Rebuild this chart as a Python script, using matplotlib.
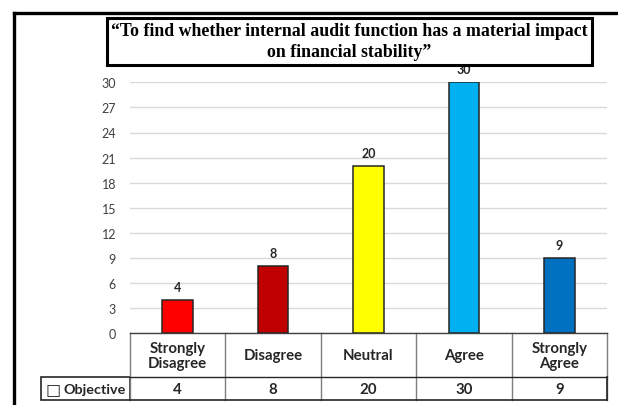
import matplotlib
matplotlib.use("Agg")
import matplotlib.pyplot as plt
from matplotlib.lines import Line2D
from matplotlib.patches import Rectangle
import matplotlib.transforms as mtrans

# survey responses
categories = ["Strongly\nDisagree", "Disagree", "Neutral", "Agree", "Strongly\nAgree"]
counts = [4, 8, 20, 30, 9]
bar_colors = ["#FF0000", "#C00000", "#FFFF00", "#00B0F0", "#0070C0"]
series_name = "Objective"
yticks = list(range(0, 31, 3))
title = "\u201cTo find whether internal audit function has a material impact\non financial stability\u201d"

plt.rcParams["font.family"] = ["Lato", "DejaVu Sans"]

fig = plt.figure(figsize=(6.18, 4.06), dpi=100)
W, H = 618, 406
ax = fig.add_axes([130 / W, 1 - 334.3 / H, 477 / W, 251 / H])

x = list(range(len(counts)))
bars = ax.bar(x, counts, width=0.32, color=bar_colors, edgecolor="#262626",
              linewidth=1.1, zorder=3)
ax.bar_label(bars, padding=5, fontsize=9, fontweight="bold", color="#262626")

ax.set_xlim(-0.5, len(counts) - 0.5)
ax.set_ylim(0, 30)
ax.set_yticks(yticks)
ax.tick_params(axis="y", length=0, pad=10, labelsize=9, labelcolor="#404040")
ax.set_xticks([])
ax.grid(axis="y", color="#d9d9d9", linewidth=1, zorder=0)
for s in ["top", "right", "left"]:
    ax.spines[s].set_visible(False)
ax.spines["bottom"].set_color("#404040")
ax.spines["bottom"].set_linewidth(1)

# data table under the axis
tr = mtrans.blended_transform_factory(ax.transData, ax.transAxes)
head_bot = -0.174
row_bot = -0.266
n = len(counts)
for i in range(n + 1):
    ax.add_line(Line2D([i - 0.5, i - 0.5], [0, row_bot], transform=tr,
                       color="#7f7f7f", lw=1, clip_on=False))
ax.add_line(Line2D([-0.5, n - 0.5], [head_bot, head_bot], transform=tr,
                   color="#262626", lw=1, clip_on=False))
ax.add_line(Line2D([-0.5, n - 0.5], [row_bot, row_bot], transform=tr,
                   color="#262626", lw=1.2, clip_on=False))
ax.add_line(Line2D([n - 0.5, n - 0.5], [head_bot, row_bot], transform=tr,
                   color="#262626", lw=1.2, clip_on=False))
for i, (cat, v) in enumerate(zip(categories, counts)):
    ax.text(i, head_bot / 2, cat, transform=tr, ha="center", va="center",
            fontsize=10.8, fontweight="bold", color="#262626", linespacing=1.1)
    ax.text(i, (head_bot + row_bot) / 2, str(v), transform=tr, ha="center",
            va="center", fontsize=10.8, fontweight="bold", color="#262626")

# row label cell
label_left = (40.7 - 130) / 477
ax.add_patch(Rectangle((label_left, row_bot), -label_left, head_bot - row_bot,
                       transform=ax.transAxes, fill=False, edgecolor="#262626",
                       lw=1.2, clip_on=False))
ax.text(label_left + 0.010, (head_bot + row_bot) / 2, "\u25a1",
        transform=ax.transAxes, ha="left", va="center", fontsize=11.5,
        fontfamily="DejaVu Sans", color="#262626")
ax.text(label_left + 0.048, (head_bot + row_bot) / 2, series_name,
        transform=ax.transAxes, ha="left", va="center", fontsize=10.4,
        fontweight="bold", color="#262626")

# outer frame (top and left edges)
fig.add_artist(Line2D([14 / W, 1], [1 - 13.5 / H, 1 - 13.5 / H], color="black", lw=2.4))
fig.add_artist(Line2D([14 / W, 14 / W], [0, 1 - 13.5 / H], color="black", lw=2.4))

# title box
fig.add_artist(Rectangle((107 / W, 1 - 66 / H), (592 - 107) / W, (66 - 19) / H,
                         transform=fig.transFigure, fill=True, facecolor="white",
                         edgecolor="black", lw=2.2, zorder=5))
fig.text(349.5 / W, 1 - 42 / H, title, ha="center", va="center",
         fontfamily="Liberation Serif", fontweight="bold", fontsize=12.8,
         linespacing=1.35, zorder=6)

fig.savefig("out.png", dpi=100)
